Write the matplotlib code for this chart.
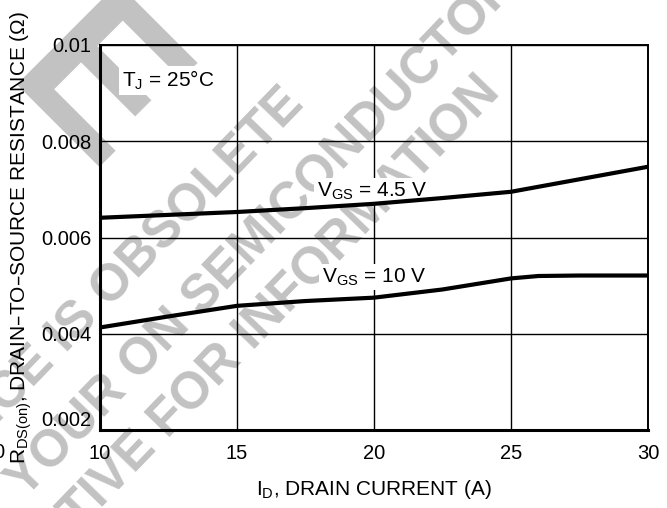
import numpy as np
import matplotlib
matplotlib.use('Agg')
import matplotlib.pyplot as plt

plt.rcParams['font.family'] = 'Liberation Sans'
plt.rcParams['mathtext.default'] = 'regular'

# drain current (A) and R_DS(on) (ohm)
id_45 = [10, 12.5, 15, 17.5, 20, 22.5, 25, 27.5, 30]
r_45 = [0.00641, 0.00647, 0.00653, 0.00661, 0.00670, 0.00682, 0.00695, 0.00721, 0.00747]

id_10 = [10, 12.5, 15, 17.5, 20, 22.5, 25, 26, 27.5, 30]
r_10 = [0.00413, 0.00436, 0.00458, 0.00468, 0.00475, 0.00492, 0.00515, 0.00520, 0.00521, 0.00521]

xticks = [10, 15, 20, 25, 30]
yticks = [0.002, 0.004, 0.006, 0.008, 0.01]
ytick_labels = ['0.002', '0.004', '0.006', '0.008', '0.01']

W, H = 667, 508
fig = plt.figure(figsize=(W / 100, H / 100), dpi=100)
ax = fig.add_axes([100 / W, 1 - 430 / H, 548 / W, 385 / H])
ax.patch.set_facecolor('none')

# watermark (behind everything)
wm_color = '#c2c2c2'
def px(x, y):
    return x / W, 1 - y / H
fig.text(*px(1.5, 83.5), 'E', fontsize=150, fontweight='bold', rotation=-45,
         rotation_mode='anchor', ha='left', va='baseline', color=wm_color, zorder=-5)
wm = [('THIS DEVICE IS OBSOLETE', (296, 96)),
      ('CONTACT YOUR ON SEMICONDUCTOR', (510, -22)),
      ('REPRESENTATIVE FOR INFORMATION', (492, 84))]
for txt, (x, y) in wm:
    fig.text(*px(x, y), txt, fontsize=37, fontweight='bold', rotation=46,
             rotation_mode='anchor', ha='right', va='center', color=wm_color, zorder=-5)

ax.plot(id_45, r_45, color='black', lw=3, solid_capstyle='butt', zorder=3)
ax.plot(id_10, r_10, color='black', lw=3, solid_capstyle='butt', zorder=3)

ax.set_xlim(10, 30)
ax.set_ylim(0.002, 0.01)
ax.set_xticks(xticks)
ax.set_yticks(yticks)
ax.set_yticklabels(ytick_labels)
ax.get_yticklabels()[0].set_va('bottom')
ax.grid(True, color='black', lw=1.0)
ax.set_axisbelow(True)
ax.tick_params(length=0, labelsize=14.5)
ax.tick_params(axis='x', pad=10)
ax.tick_params(axis='y', pad=6)
for s in ['left', 'bottom']:
    ax.spines[s].set_linewidth(2.2)
for s in ['top', 'right']:
    ax.spines[s].set_linewidth(1.4)

box = dict(facecolor='white', edgecolor='none', pad=2)
ax.text(10.8, 0.00913, r'$T_J$ = 25°C', fontsize=15, va='baseline', ha='left', bbox=box, zorder=4)
ax.text(17.92, 0.00685, r'$V_{GS}$ = 4.5 V', fontsize=15, va='baseline', ha='left', bbox=box, zorder=2)
ax.text(18.1, 0.00507, r'$V_{GS}$ = 10 V', fontsize=15, va='baseline', ha='left', bbox=box, zorder=2)

ax.set_xlabel(r'$I_D$, DRAIN CURRENT (A)', fontsize=15)
ax.xaxis.set_label_coords(0.5, -0.125)
ax.set_ylabel(r'$R_{DS(on)}$, DRAIN–TO–SOURCE RESISTANCE (Ω)', fontsize=15)
ax.yaxis.set_label_coords(-0.12, 0.5)

# clipped tick label left over at the image edge
fig.text(*px(4, 452), '0', fontsize=14.5, ha='right', va='center')

fig.savefig('out.png', dpi=100)
